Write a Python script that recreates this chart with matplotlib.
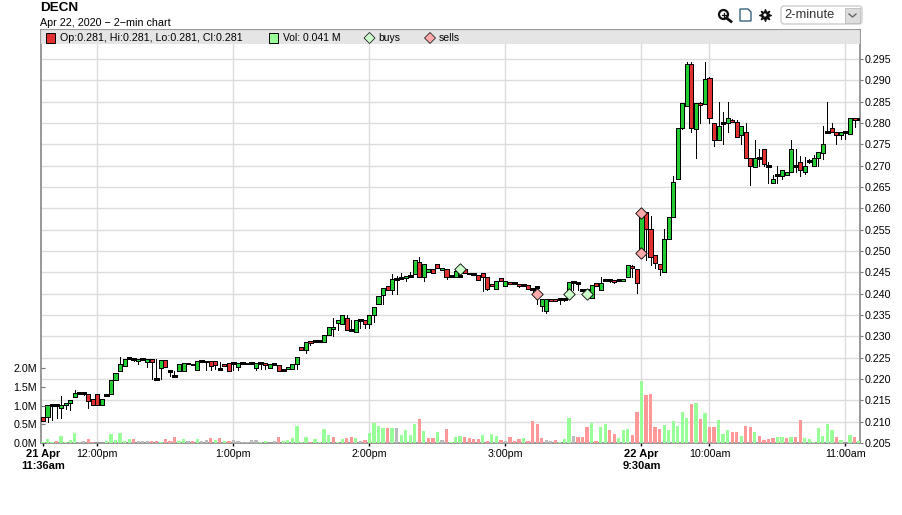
#!/usr/bin/env python3
# DECN 2-minute candlestick chart with volume bars

import numpy as np
import matplotlib
matplotlib.use('Agg')
import matplotlib.pyplot as plt
from matplotlib.patches import Rectangle, Circle, Polygon, FancyBboxPatch

# Candles =====================================================================
opens = [
    .2110, .2110, .2138, .2138, .2132, .2138, .2144, .2157, .2168, .2168,
    .2166, .2152, .2164, .2138, .2163, .2166, .2197, .2219, .2230, .2250,
    .2248, .2243, .2248, .2239, .2248, .2200, .2225, .2245, .2219, .2208,
    .2219, .2219, .2235, .2232, .2220, .2242, .2239, .2242, .2242, .2223,
    .2236, .2238, .2238, .2229, .2238, .2235, .2238, .2225, .2238, .2238,
    .2225, .2236, .2232, .2221, .2223, .2223, .2236, .2275, .2267, .2289,
    .2289, .2289, .2286, .2302, .2318, .2332, .2330, .2344, .2315, .2311,
    .2339, .2339, .2330, .2349, .2377, .2396, .2417, .2409, .2435, .2437,
    .2436, .2442, .2447, .2474, .2440, .2451, .2458, .2470, .2456, .2458,
    .2441, .2440, .2442, .2458, .2449, .2445, .2444, .2449, .2440, .2423,
    .2412, .2437, .2419, .2427, .2425, .2423, .2421, .2421, .2412, .2415,
    .2371, .2360, .2388, .2388, .2388, .2388, .2406, .2428, .2424, .2408,
    .2408, .2389, .2424, .2408, .2431, .2431, .2431, .2431, .2430, .2439,
    .2466, .2459, .2502, .2591, .2551, .2490, .2469, .2450, .2528, .2579,
    .2670, .2789, .2841, .2939, .2785, .2848, .2845, .2906, .2799, .2761,
    .2799, .2799, .2806, .2803, .2771, .2778, .2719, .2698, .2719, .2738,
    .2700, .2659, .2679, .2675, .2678, .2686, .2700, .2708, .2686, .2710,
    .2700, .2719, .2729, .2780, .2789, .2780, .2771, .2778, .2775, .2813,
    .2810]
highs = [
    .2110, .2138, .2138, .2138, .2160, .2143, .2150, .2174, .2168, .2168,
    .2166, .2152, .2164, .2152, .2163, .2198, .2215, .2251, .2248, .2250,
    .2248, .2248, .2248, .2248, .2248, .2246, .2245, .2245, .2219, .2219,
    .2236, .2238, .2238, .2235, .2242, .2242, .2242, .2242, .2242, .2240,
    .2236, .2238, .2238, .2238, .2238, .2238, .2238, .2238, .2238, .2238,
    .2235, .2236, .2232, .2221, .2229, .2236, .2251, .2275, .2287, .2289,
    .2289, .2289, .2302, .2323, .2344, .2339, .2349, .2349, .2339, .2339,
    .2339, .2339, .2349, .2369, .2394, .2414, .2417, .2447, .2441, .2449,
    .2441, .2450, .2479, .2485, .2470, .2458, .2458, .2470, .2461, .2458,
    .2441, .2453, .2442, .2458, .2449, .2445, .2444, .2449, .2440, .2423,
    .2429, .2437, .2429, .2427, .2425, .2423, .2421, .2421, .2412, .2415,
    .2388, .2388, .2388, .2388, .2388, .2388, .2428, .2428, .2428, .2408,
    .2408, .2420, .2424, .2440, .2431, .2431, .2431, .2431, .2434, .2468,
    .2468, .2459, .2589, .2591, .2581, .2490, .2469, .2551, .2579, .2675,
    .2789, .2848, .2942, .2942, .2848, .2850, .2942, .2909, .2799, .2850,
    .2825, .2850, .2810, .2806, .2792, .2799, .2719, .2761, .2740, .2740,
    .2708, .2679, .2700, .2691, .2685, .2761, .2738, .2723, .2720, .2716,
    .2725, .2731, .2792, .2850, .2799, .2780, .2778, .2778, .2813, .2813,
    .2813]
lows = [
    .2101, .2100, .2105, .2108, .2109, .2130, .2128, .2157, .2166, .2162,
    .2131, .2138, .2138, .2138, .2163, .2166, .2197, .2219, .2230, .2248,
    .2242, .2236, .2248, .2229, .2200, .2200, .2200, .2227, .2208, .2208,
    .2219, .2219, .2235, .2232, .2220, .2239, .2221, .2221, .2223, .2223,
    .2230, .2219, .2221, .2221, .2238, .2235, .2238, .2221, .2223, .2223,
    .2225, .2236, .2219, .2221, .2223, .2223, .2223, .2267, .2262, .2279,
    .2289, .2286, .2286, .2302, .2300, .2315, .2330, .2315, .2315, .2311,
    .2320, .2320, .2320, .2334, .2377, .2377, .2409, .2400, .2400, .2437,
    .2429, .2442, .2447, .2440, .2429, .2451, .2448, .2461, .2456, .2435,
    .2441, .2440, .2442, .2449, .2445, .2445, .2433, .2407, .2408, .2419,
    .2412, .2429, .2419, .2423, .2425, .2415, .2421, .2412, .2403, .2375,
    .2360, .2355, .2382, .2384, .2376, .2383, .2406, .2408, .2408, .2408,
    .2408, .2389, .2418, .2408, .2431, .2428, .2425, .2431, .2430, .2439,
    .2440, .2401, .2502, .2478, .2467, .2460, .2443, .2450, .2528, .2579,
    .2670, .2785, .2841, .2778, .2719, .2799, .2845, .2799, .2747, .2761,
    .2752, .2780, .2803, .2768, .2750, .2719, .2654, .2698, .2700, .2700,
    .2659, .2659, .2659, .2668, .2678, .2686, .2685, .2675, .2680, .2706,
    .2700, .2700, .2716, .2780, .2780, .2752, .2762, .2762, .2775, .2790,
    .2810]
closes = [
    .2101, .2138, .2138, .2138, .2138, .2143, .2150, .2168, .2168, .2168,
    .2148, .2138, .2138, .2152, .2163, .2198, .2215, .2236, .2248, .2250,
    .2248, .2248, .2248, .2248, .2241, .2200, .2245, .2228, .2219, .2208,
    .2236, .2238, .2238, .2235, .2242, .2242, .2242, .2231, .2232, .2223,
    .2230, .2219, .2238, .2238, .2238, .2238, .2238, .2238, .2238, .2232,
    .2235, .2236, .2219, .2221, .2229, .2236, .2251, .2267, .2287, .2284,
    .2289, .2289, .2302, .2323, .2322, .2339, .2349, .2315, .2315, .2339,
    .2339, .2330, .2349, .2369, .2394, .2414, .2409, .2435, .2435, .2437,
    .2441, .2442, .2479, .2440, .2470, .2458, .2448, .2461, .2461, .2439,
    .2441, .2453, .2442, .2449, .2445, .2445, .2433, .2440, .2412, .2419,
    .2429, .2429, .2429, .2423, .2425, .2419, .2421, .2412, .2412, .2415,
    .2388, .2388, .2382, .2384, .2388, .2388, .2428, .2428, .2424, .2408,
    .2408, .2420, .2418, .2426, .2431, .2431, .2427, .2431, .2434, .2468,
    .2461, .2424, .2589, .2551, .2485, .2471, .2457, .2528, .2579, .2661,
    .2789, .2848, .2939, .2789, .2848, .2843, .2904, .2813, .2761, .2794,
    .2799, .2811, .2803, .2768, .2792, .2719, .2700, .2719, .2719, .2705,
    .2700, .2670, .2679, .2691, .2685, .2740, .2700, .2691, .2700, .2710,
    .2719, .2731, .2750, .2780, .2780, .2771, .2778, .2778, .2813, .2807,
    .2810]

# Volumes in millions =========================================================
volumes = [
    .02, .11, .04, .05, .20, .04, .09, .28, .04, .045,
    .10, .04, .01, .00, .05, .23, .09, .28, .06, .12,
    .10, .06, .06, .05, .06, .06, .04, .10, .05, .17,
    .06, .12, .06, .05, .12, .05, .09, .13, .09, .13,
    .05, .06, .09, .05, .04, .04, .09, .07, .04, .06,
    .00, .05, .15, .05, .09, .14, .45, .03, .16, .03,
    .11, .03, .37, .21, .16, .03, .11, .13, .16, .13,
    .05, .08, .27, .53, .45, .40, .40, .40, .40, .21,
    .35, .21, .51, .64, .32, .13, .13, .29, .08, .37,
    .03, .16, .19, .16, .13, .11, .11, .21, .05, .24,
    .19, .08, .05, .16, .05, .11, .13, .05, .59, .51,
    .13, .08, .05, .08, .03, .11, .67, .19, .16, .16,
    .43, .53, .05, .43, .51, .35, .24, .13, .35, .37,
    .21, .83, 1.65, 1.28, 1.31, .43, .37, .48, .35, .59,
    .45, .83, .67, 1.04, 1.07, .64, .80, .43, .43, .61,
    .24, .35, .29, .29, .19, .45, .43, .29, .19, .08,
    .11, .13, .16, .16, .13, .16, .16, .61, .13, .11,
    .03, .40, .19, .51, .35, .16, .08, .00, .21, .16,
    .041]

# Direction of each volume bar: g up, r down, n flat
vol_dirs = list(
    "gggrggggnn" "rrgggggggg"
    "rnnnrrgrrr" "ggnrgnnrgr"
    "grnnnnnngg" "gnrggggggr"
    "ggggrggrrg" "nrggggrgng"
    "gggrgrrgnr" "gggrrrrgrg"
    "grnrrrgrrr" "rnnrgggnrr"
    "rgrggrrggg" "rrgrrrrggg"
    "gggrgrgrrg" "ggrrgrrgrr"
    "rrggrgrrgg" "gggggrgggr"
    "g")

# Buy and sell marks ==========================================================
buy_idx = [92, 116, 120]
buy_price = [.2458, .2400, .2400]
sell_idx = [109, 132, 132]
sell_price = [.2400, .2589, .2495]

n = len(closes)
idx = np.arange(n)
opens, highs, lows, closes = map(np.array, (opens, highs, lows, closes))
volumes = np.array(volumes)

PX = 902.0
PY = 515.0
FS = 7.65

plt.rcParams['font.family'] = ['Liberation Sans', 'DejaVu Sans']
fig = plt.figure(figsize=(PX/100, PY/100), dpi=100, facecolor='white')

# Price axes, pixel box x 41-860, y 30-443
ax = fig.add_axes([41/PX, 1-443/PY, (860-41)/PX, (443-30)/PY])
ax.set_xlim(-0.44, 180.2)
ax.set_ylim(0.205, 0.205 + 413/21.33*0.005)

# Volume axes shares the box, scale 37.5 px per million
axv = ax.twinx()
axv.set_ylim(0, 413/37.5)
ax.yaxis.tick_right()
axv.yaxis.tick_left()

price_ticks = np.arange(0.205, 0.2951, 0.005)
ax.set_yticks(price_ticks)
ax.set_yticklabels(['%.3f' % p for p in price_ticks], fontsize=FS)
ax.tick_params(axis='y', direction='out', length=2.5, width=0.8, color='#777777', pad=1)
ticks_x = [0, 12, 42, 72, 102, 132, 147, 177]
labels_x = ['21 Apr\n11:36am', '12:00pm', '1:00pm', '2:00pm', '3:00pm',
            '22 Apr\n9:30am', '10:00am', '11:00am']
ax.set_xticks(ticks_x)
ax.set_xticklabels(labels_x, fontsize=FS, linespacing=1.35)
for lab in ax.get_xticklabels():
    if '\n' in lab.get_text():
        lab.set_fontweight('bold')
        lab.set_fontsize(8.0)
ax.tick_params(axis='x', direction='out', length=2.5, width=1.0, color='#000000', pad=1.5)
ax.grid(True, color='#dcdcdc', lw=1.0)
ax.xaxis.get_gridlines()[0].set_visible(False)
ax.set_axisbelow(True)
for s in ax.spines.values():
    s.set_color('#888888')
    s.set_linewidth(1.2)

# Wicks, then bodies
W = 0.9
GREEN = '#22cc33'
RED = '#e03030'
ax.vlines(idx, lows, highs, color='black', lw=0.72, antialiased=False, zorder=3)
tops = np.maximum(opens, closes)
bots = np.minimum(opens, closes)
up = closes > opens
down = closes < opens
flat = closes == opens
ax.bar(idx[up], (tops-bots)[up], W, bottom=bots[up], color=GREEN,
       edgecolor='black', lw=0.72, antialiased=False, zorder=4)
ax.bar(idx[down], (tops-bots)[down], W, bottom=bots[down], color=RED,
       edgecolor='black', lw=0.72, antialiased=False, zorder=4)
ax.hlines(closes[flat], idx[flat]-0.5, idx[flat]+0.5, color='black', lw=1.0,
          antialiased=False, zorder=4)

# Buy / sell diamonds
ax.scatter(buy_idx, buy_price, marker='D', s=34, color='#ccffcc',
           edgecolor='black', lw=0.6, zorder=5)
ax.scatter(sell_idx, sell_price, marker='D', s=34, color='#ffaaaa',
           edgecolor='black', lw=0.6, zorder=5)

vol_ticks = [0.0, 0.5, 1.0, 1.5, 2.0]
axv.set_yticks(vol_ticks)
axv.set_yticklabels(['%.1fM' % v for v in vol_ticks], fontsize=FS)
axv.tick_params(axis='y', direction='in', length=3, width=0.8, color='#777777', pad=3)
for s in axv.spines.values():
    s.set_visible(False)
bar_cols = {'g': '#99ff99', 'r': '#ff9999', 'n': '#bbbbbb'}
axv.bar(idx, volumes, 0.72, color=[bar_cols[d] for d in vol_dirs], lw=0,
        antialiased=False, zorder=2)

# Overlay in pixel coordinates for title, legend band and toolbar
ov = fig.add_axes([0, 0, 1, 1], zorder=10)
ov.set_xlim(0, PX)
ov.set_ylim(PY, 0)
ov.axis('off')
ov.patch.set_alpha(0)

ov.text(40, 8, 'DECN', fontsize=9.7, fontweight='bold', va='center', ha='left')
ov.text(40, 23, 'Apr 22, 2020 \u2212 2\u2212min chart', fontsize=7.75, va='center', ha='left')

ov.add_patch(Rectangle((41, 30), 819, 14, fc='#e4e4e4', ec='none', alpha=0.93))
ov.add_patch(Rectangle((45.5, 33), 9.5, 9.5, fc=RED, ec='black', lw=0.7))
ov.text(60.5, 38, 'Op:0.281, Hi:0.281, Lo:0.281, Cl:0.281', fontsize=7.65, va='center')
ov.add_patch(Rectangle((268.5, 33), 9.5, 9.5, fc='#99ff99', ec='black', lw=0.7))
ov.text(283, 38, 'Vol: 0.041 M', fontsize=7.5, va='center')
ov.add_patch(Polygon([(364, 38), (369.5, 32.5), (375, 38), (369.5, 43.5)], fc='#ccffcc', ec='black', lw=0.5))
ov.text(378.5, 38, 'buys', fontsize=7.5, va='center')
ov.add_patch(Polygon([(424.5, 38), (430, 32.5), (435.5, 38), (430, 43.5)], fc='#ffaaaa', ec='black', lw=0.5))
ov.text(439, 38, 'sells', fontsize=7.5, va='center')

# Toolbar icons
ov.add_patch(Circle((723.5, 14.5), 4.5, fc='white', ec='#111111', lw=1.6))
ov.plot([726.5, 731], [18, 21.5], color='#111111', lw=2)
ov.plot([721.5, 725.5], [14.5, 14.5], color='#111111', lw=0.9)
ov.plot([723.5, 723.5], [12.5, 16.5], color='#111111', lw=0.9)
ov.add_patch(Polygon([(740, 9), (748, 9), (751, 12), (751, 21), (740, 21)], fc='white', ec='#24506e', lw=0.9))
ov.scatter([765], [15], marker=(8, 1, 0), s=70, color='#111111')
ov.add_patch(Circle((765, 15), 1.6, fc='white', ec='none', zorder=5))
ov.add_patch(FancyBboxPatch((781, 6), 81, 18, boxstyle='round,pad=0,rounding_size=3',
                            fc='white', ec='#c8c8c8', lw=0.9))
ov.add_patch(Rectangle((845, 7.5), 15, 15, fc='#dddddd', ec='#bbbbbb', lw=0.6))
ov.plot([849, 852.5, 856], [14, 17, 14], color='#666666', lw=1.0)
ov.text(784, 15, '2-minute', fontsize=9.3, va='center', color='#333333')

fig.savefig('out.png', dpi=100)
